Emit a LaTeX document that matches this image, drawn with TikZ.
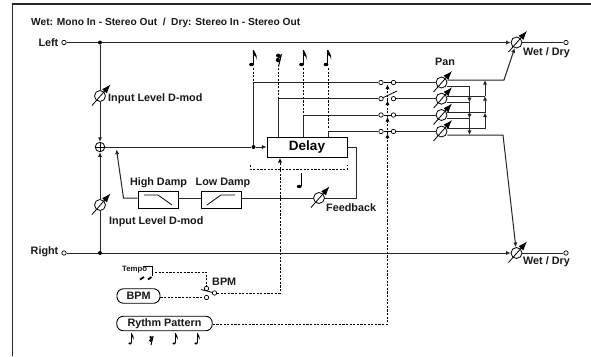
\documentclass[tikz,border=0pt]{standalone}
\usepackage{fontspec}
\setmainfont{Liberation Sans}
\usetikzlibrary{arrows.meta,calc}
\tikzset{
  x=1pt,y=-1pt,
  wire/.style={draw=black!85,line width=1pt},
  dashline/.style={draw=black,line width=0.8pt,dash pattern=on 2.2pt off 1.4pt},
  txt/.style={font=\bfseries\fontsize{10.8}{12}\selectfont,inner sep=0pt,text=black!90},
  vcanode/.style={circle,draw=black,line width=0.8pt,fill=white,minimum size=11pt,inner sep=0pt},
  vcaslash/.style={draw=black,line width=0.8pt,-{Latex[length=9pt,width=6.5pt]}},
  term/.style={circle,draw=black,line width=0.7pt,fill=white,minimum size=4.4pt,inner sep=0pt},
  jun/.style={circle,fill=black,minimum size=4pt,inner sep=0pt},
  tipp/.style={-{Latex[length=4.6pt,width=4.2pt]}},
  dmp/.style={rectangle,draw=black,line width=0.9pt,minimum width=40pt,minimum height=16.5pt,inner sep=0pt},
  pill/.style={rectangle,rounded corners=6.5pt,draw=black,line width=0.9pt,minimum height=14.5pt,inner sep=0pt,txt},
}
\newcommand{\myvca}[2]{\node[vcanode] (#1) at (#2) {};
  \draw[vcaslash] ($(#1)+(-8,9.5)$) -- ($(#1)+(10.5,-11.5)$);}
\newcommand{\myeighth}[3][1]{\begin{scope}[shift={(#2,#3)},scale=#1]
  \fill[black] (0,14.5) ellipse (2.4pt and 1.7pt);
  \draw[black,line width=1pt] (1.8,14) -- (1.8,0);
  \fill[black] (1.4,0) -- (2.3,0) .. controls (2.6,3) and (6,3.5) .. (5,9.5) .. controls (4.8,6) and (2.8,5.5) .. (1.4,4.5) -- cycle;
  \end{scope}}
\newcommand{\myrest}[3][1]{\begin{scope}[shift={(#2,#3)},scale=#1]
  \fill[black] (-0.4,1.6) circle (2pt);
  \fill[black] (-0.8,6) circle (2pt);
  \draw[black,line width=1pt] (3,0) .. controls (2.5,3) and (1,4) .. (-1,4.6);
  \draw[black,line width=1pt] (2.6,1.5) -- (0,12.5);
  \draw[black,line width=1pt] (2,4.5) .. controls (1.5,6.5) and (0.5,7.5) .. (-1,8);
  \end{scope}}
\begin{document}
\begin{tikzpicture}
\useasboundingbox (0,0) rectangle (591,356);
\fill[white] (0,0) rectangle (591,356);
% frame
\coordinate (fa) at (12.5,356); \coordinate (fb) at (12.5,4); \coordinate (fc) at (591,4);
\draw[black!85,line width=1.2pt] (fa) -- (fb) -- (fc);
\node[txt,font=\bfseries\fontsize{10.2}{12}\selectfont,anchor=west] (title) at (31,22.5) {Wet: Mono In - Stereo Out\hspace{0.55em}/\hspace{0.55em}Dry: Stereo In - Stereo Out};
% terminals
\node[term] (inL) at (64,42.5) {};
\node[term] (inR) at (64,253) {};
\node[term] (outL) at (566,42.5) {};
\node[term] (outR) at (566,253) {};
\node[txt,anchor=east] (lL) at (58.5,42.5) {Left};
\node[txt,anchor=east] (lR) at (58.5,252) {Right};
\node[jun] (jL) at (100,42.5) {};
\node[jun] (jR) at (100,253) {};
\node[jun] (jD) at (253.5,147) {};
\node[circle,draw=black,line width=0.8pt,fill=white,minimum size=9.5pt,inner sep=0pt,
  path picture={\draw[black,line width=0.8pt] (path picture bounding box.north) -- (path picture bounding box.south) (path picture bounding box.west) -- (path picture bounding box.east);}] (sum) at (100,147) {};
% delay & damp
\node[rectangle,draw=black,line width=0.9pt,minimum width=80pt,minimum height=19.5pt,inner sep=0pt,font=\bfseries\fontsize{13.5}{15}\selectfont] (delay) at (307,147.5) {Delay};
\node[dmp] (high) at (158,200) {};
\node[dmp] (low) at (221,200) {};
\node[txt] (lhigh) at (158.5,182.5) {High Damp};
\node[txt] (llow) at (223,182.5) {Low Damp};
\coordinate (ha) at (144,195); \coordinate (hb) at (158,195); \coordinate (hc) at (172,205);
\draw[black,line width=0.8pt] (ha) -- (hb) -- (hc);
\coordinate (la) at (207,205); \coordinate (lb) at (221,195); \coordinate (lc) at (235,195);
\draw[black,line width=0.8pt] (la) -- (lb) -- (lc);
% VCAs
\myvca{vT}{100,96}
\myvca{vB}{100,205}
\myvca{vF}{319,198}
\myvca{wT}{516.5,42.5}
\myvca{wB}{516.5,253}
\myvca{p1}{441.5,82.5}
\myvca{p2}{441.5,98.7}
\myvca{p3}{441.5,115}
\myvca{p4}{441.5,131.5}
\node[txt,anchor=west] (l1) at (108,99) {Input Level D-mod};
\node[txt,anchor=west] (l2) at (109,222) {Input Level D-mod};
\node[txt,anchor=west] (l3) at (326,207.5) {Feedback};
\node[txt,anchor=west] (l4) at (523,52.5) {Wet / Dry};
\node[txt,anchor=west] (l5) at (523,262) {Wet / Dry};
\node[txt,anchor=west] (l6) at (435,62) {Pan};
\node[txt,anchor=west] (l7) at (212,282) {BPM};
% main wires
\draw[wire] (inL) -- (jL);
\draw[wire] (inR) -- (jR);
\draw[wire] (jL) -- (vT);
\draw[wire,tipp] (vT) -- (sum);
\draw[wire] (jR) -- (vB);
\draw[wire,tipp] (vB) -- (sum);
\draw[wire,tipp] (jL) -- (wT);
\draw[wire,tipp] (jR) -- (wB);
\draw[wire] (wT) -- (outL);
\draw[wire] (wB) -- (outR);
\draw[wire] (sum) -- (jD);
\draw[wire,tipp] (jD) -- (delay.west |- jD);
% feedback
\coordinate (fb1) at (356.5,147); \coordinate (fb2) at (356.5,198);
\draw[wire] (delay.east |- fb1) -- (fb1) -- (fb2) -- (vF);
\draw[wire] (vF) -- (low.east |- vF);
\draw[wire] (low.west |- vF) -- (high.east |- vF);
\coordinate (rb) at (123.5,198); \coordinate (rt) at (116.5,149.5);
\draw[wire,tipp] (high.west |- vF) -- (rb) -- (rt);
% switches
\foreach \n/\y in {1/82.5,2/98.7,3/115,4/131.5}{
  \node[term] (sa\n) at (381,\y) {};
  \node[term] (sb\n) at (393.5,\y) {};
  \draw[wire] (sb\n) -- (p\n);
}
\coordinate (t1) at (253.5,82.5); \coordinate (t2) at (278.5,98.7); \coordinate (t3) at (303.3,115); \coordinate (t4) at (328,131.5);
\draw[wire] (jD) -- (t1) -- (sa1);
\draw[wire] (t2 |- delay.north) -- (t2) -- (sa2);
\draw[wire] (t3 |- delay.north) -- (t3) -- (sa3);
\draw[wire] (t4 |- delay.north) -- (t4) -- (sa4);
\coordinate (le2) at (397,91);
\draw[black,line width=0.8pt] (sa1) -- (sb1);
\draw[black,line width=0.8pt] (sa2) -- (le2);
\draw[black,line width=0.8pt] (sa3) -- (sb3);
\draw[black,line width=0.8pt] (sa4) -- (sb4);
% pan outs
\coordinate (o1) at (504,80); \coordinate (o4) at (503,135);
\draw[wire,tipp] (p1.east |- o1) -- (o1) -- (wT);
\draw[wire,tipp] (p4.east |- o4) -- (o4) -- (wB);
\coordinate (m1) at (469.5,86); \coordinate (m2) at (469.5,102.3); \coordinate (m3) at (469.5,118.5); \coordinate (m4) at (469.5,135);
\coordinate (n1) at (485,80); \coordinate (n2) at (485,96); \coordinate (n3) at (485,112.5); \coordinate (n4) at (485,128.5);
\draw[wire] (p1.east |- m1) -- (m1);
\draw[wire] (p2.east |- m2) -- (m2);
\draw[wire] (p3.east |- m3) -- (m3);
\draw[wire] (p2.east |- n2) -- (n2);
\draw[wire] (p3.east |- n3) -- (n3);
\draw[wire] (p4.east |- n4) -- (n4);
\draw[wire,tipp] (m1) -- (m2);
\draw[wire,tipp] (m2) -- (m3);
\draw[wire,tipp] (m3) -- (m4);
\draw[wire,tipp] (n4) -- (n3);
\draw[wire,tipp] (n3) -- (n2);
\draw[wire,tipp] (n2) -- (n1);
% notes and dashes
\myeighth{251.5}{50}
\myrest{278.5}{54}
\myeighth{301.5}{50}
\myeighth{326}{50}
\coordinate (nt1) at (253.5,68); \coordinate (nt2) at (278.5,68); \coordinate (nt3) at (303.3,68); \coordinate (nt4) at (328,68);
\coordinate (nb4) at (328,128);
\draw[dashline] (nt1) -- (t1);
\draw[dashline] (nt2) -- (t2);
\draw[dashline] (nt3) -- (t3);
\draw[dashline] (nt4) -- (nb4);
% bracket under delay
\coordinate (ba) at (250,165); \coordinate (bb) at (250,169); \coordinate (bc) at (347.5,169); \coordinate (bd) at (347.5,165);
\draw[dashline] (ba) -- (bb) -- (bc) -- (bd);
\draw[black,line width=1pt] (301,173) -- (301,186);
\fill[black] (299.2,186.5) ellipse (2.4pt and 1.7pt);
% controls
\node[txt,font=\bfseries\fontsize{7.8}{9}\selectfont,anchor=west] (ltempo) at (122,270) {Tempo};
\coordinate (bra) at (143,266.5); \coordinate (brb) at (152,266.5); \coordinate (brc) at (152,276);
\draw[black,line width=0.9pt] (bra) -- (brb) -- (brc);
\draw[black,line width=1.8pt] (140,279.5) -- (144,277);
\draw[black,line width=1.8pt] (148,279.5) -- (151.5,277);
\node[pill,minimum width=43pt] (bpm) at (138.5,296) {BPM};
\node[pill,minimum width=95.5pt] (rp) at (164.5,323.5) {Rythm Pattern};
\node[term] (s1) at (206.5,288.5) {};
\node[term] (s2) at (206.5,297.5) {};
\node[term] (s3) at (214.5,293) {};
\coordinate (le) at (201,289.5);
\draw[black,line width=0.8pt] (le) -- (s3);
\coordinate (tt) at (155,272); \coordinate (tc) at (206.5,272);
\draw[dashline] (tt) -- (tc) -- (s1);
\draw[dashline] (bpm.east |- s2) -- (s2);
\coordinate (dc) at (280,293);
\coordinate (dtop) at (280,158);
\draw[dashline,tipp] (s3) -- (dc) -- (dtop);
\coordinate (rc) at (387.5,324);
\coordinate (ar4) at (387.5,133.5); \coordinate (ar3) at (387.5,117); \coordinate (ar2) at (387.5,100.5); \coordinate (ar1) at (387.5,84.5);
\draw[dashline,tipp] (rp.east |- rc) -- (rc) -- (ar4);
\draw[dashline,tipp] (ar4) -- (ar3);
\draw[dashline,tipp] (ar3) -- (ar2);
\draw[dashline,tipp] (ar2) -- (ar1);
\myeighth[0.72]{130}{333}
\myrest[0.72]{151}{336}
\myeighth[0.72]{174}{333}
\myeighth[0.72]{196}{333}
\end{tikzpicture}
\end{document}
